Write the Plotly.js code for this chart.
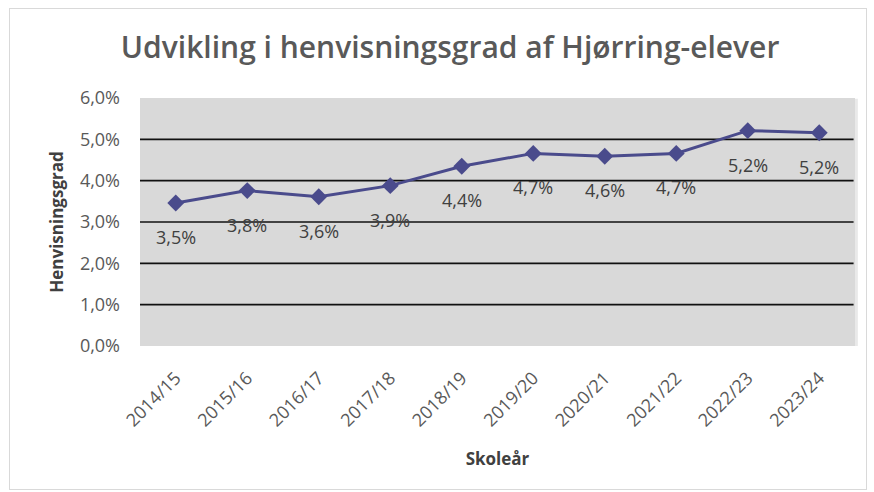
<!DOCTYPE html>
<html>
<head>
<meta charset="utf-8">
<script src="https://cdn.plot.ly/plotly-3.0.1.min.js"></script>
<style>
  html, body { margin: 0; padding: 0; background: #ffffff; }
  #chart { width: 874px; height: 492px; position: absolute; left: 0; top: 0; }
  #frame { position: absolute; left: 9px; top: 8px; width: 856px; height: 480px; border: 1px solid #d9d9d9; pointer-events: none; }
</style>
</head>
<body>
<div id="chart"></div>
<div id="frame"></div>
<script>
const categories = ["2014/15", "2015/16", "2016/17", "2017/18", "2018/19", "2019/20", "2020/21", "2021/22", "2022/23", "2023/24"];
const henvisningsgrad = [3.46, 3.76, 3.61, 3.88, 4.35, 4.66, 4.59, 4.66, 5.21, 5.16];
const labels = ["3,5%", "3,8%", "3,6%", "3,9%", "4,4%", "4,7%", "4,6%", "4,7%", "5,2%", "5,2%"];
const yTickVals = [0, 1, 2, 3, 4, 5, 6];
const yTickText = ["0,0%", "1,0%", "2,0%", "3,0%", "4,0%", "5,0%", "6,0%"];
const gridVals = [1, 2, 3, 4, 5];

const FONT = "'Open Sans', Lato, sans-serif";

const trace = {
  x: categories,
  y: henvisningsgrad,
  type: "scatter",
  mode: "lines+markers",
  line: { color: "#4a4b8c", width: 3 },
  marker: { symbol: "diamond", size: 13, color: "#4a4b8c" },
  hoverinfo: "skip",
  cliponaxis: false
};

const shapes = [
  { type: "rect", xref: "paper", yref: "y", x0: 0.003, x1: 1.004, y0: -0.2, y1: 5.98, fillcolor: "#e9e9e9", line: { width: 0 }, layer: "below" },
  { type: "rect", xref: "paper", yref: "y", x0: 0, x1: 1, y0: -0.16, y1: 6, fillcolor: "#d9d9d9", line: { width: 0 }, layer: "below" }
];
gridVals.forEach(v => shapes.push({
  type: "line", xref: "paper", yref: "y", x0: 0, x1: 0.998, y0: v, y1: v,
  line: { color: "#111111", width: 1.6 }, layer: "below"
}));

const annotations = categories.map((c, i) => ({
  x: c, y: henvisningsgrad[i], text: labels[i], showarrow: false,
  yshift: -34, font: { family: FONT, size: 18, color: "#404040" }
}));

const layout = {
  width: 874, height: 492,
  margin: { l: 140, r: 19, t: 98, b: 146 },
  paper_bgcolor: "rgba(0,0,0,0)",
  plot_bgcolor: "rgba(0,0,0,0)",
  showlegend: false,
  title: {
    text: "Udvikling i henvisningsgrad af Hjørring-elever",
    font: { family: FONT, size: 30, color: "#595959", weight: 600 },
    x: 0.515, xanchor: "center", y: 0.904, yanchor: "middle"
  },
  xaxis: {
    type: "category",
    range: [-0.5, 9.5],
    showgrid: false, zeroline: false, showline: false,
    ticks: "", tickangle: -45,
    ticklabelstandoff: 17,
    tickfont: { family: FONT, size: 18, color: "#595959" },
    title: { text: "Skoleår", font: { family: FONT, size: 17, color: "#404040", weight: "bold" }, standoff: 22 }
  },
  yaxis: {
    range: [0, 6],
    tickvals: yTickVals, ticktext: yTickText,
    showgrid: false, zeroline: false, showline: false, ticks: "",
    tickfont: { family: FONT, size: 18, color: "#595959" },
    ticklabelstandoff: 19,
    title: { text: "Henvisningsgrad", font: { family: FONT, size: 17, color: "#404040", weight: "bold" }, standoff: 11 }
  },
  shapes: shapes,
  annotations: annotations
};

Plotly.newPlot("chart", [trace], layout, { displayModeBar: false, staticPlot: true });
</script>
</body>
</html>
